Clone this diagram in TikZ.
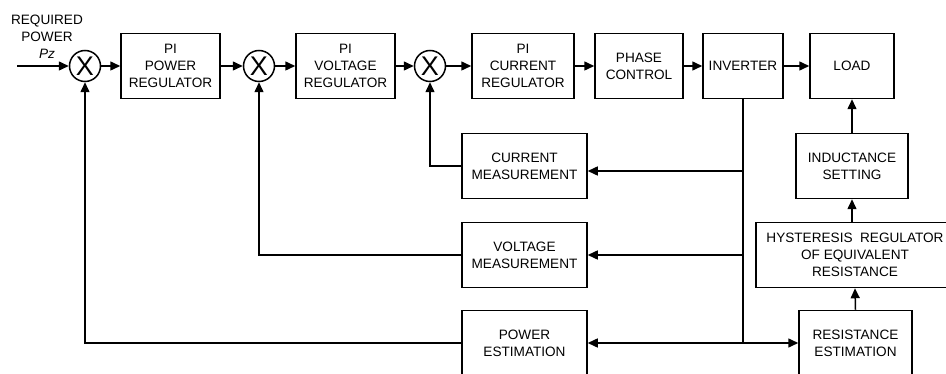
\documentclass[tikz,border=0pt]{standalone}
\usepackage{fontspec}
\setmainfont{Liberation Sans}
\usetikzlibrary{arrows.meta}

\begin{document}
\begin{tikzpicture}[x=1pt, y=-1pt, line width=1.5pt,
  every node/.style={font=\fontsize{13.6}{17}\selectfont},
  block/.style={draw, line width=1.5pt, minimum height=65pt, align=center, inner sep=1pt},
  summer/.style={draw, circle, line width=1.5pt, minimum size=31pt, inner sep=0pt,
    font=\fontsize{27}{27}\selectfont},
  >={Triangle[length=10pt,width=9pt]}]
\useasboundingbox (0,0) rectangle (946,374);
% top row
\node[align=center] (req) at (47,37) {REQUIRED\\POWER\\\textit{Pz}};
\coordinate (in) at (17,66);
\node[summer] (s1) at (85,66) {X};
\node[block, minimum width=99pt] (pipow) at (170.5,66) {PI\\POWER\\REGULATOR};
\node[summer] (s2) at (259,66) {X};
\node[block, minimum width=99pt] (pivolt) at (345.5,66) {PI\\VOLTAGE\\REGULATOR};
\node[summer] (s3) at (430,66) {X};
\node[block, minimum width=102pt] (picur) at (523,66) {PI\\CURRENT\\REGULATOR};
\node[block, minimum width=88pt] (phase) at (639,66) {PHASE\\CONTROL};
\node[block, minimum width=80pt] (inv) at (743,66) {INVERTER};
\node[block, minimum width=84pt] (load) at (852,66) {LOAD};
% measurement blocks
\node[block, minimum width=125pt] (cur) at (524.5,166) {CURRENT\\MEASUREMENT};
\node[block, minimum width=125pt] (volt) at (524.5,255) {VOLTAGE\\MEASUREMENT};
\node[block, minimum width=125pt] (powest) at (524.5,343) {POWER\\ESTIMATION};
% right column
\node[block, minimum width=112pt] (ind) at (852,166) {INDUCTANCE\\SETTING};
\node[block, minimum width=198pt] (hyst) at (855,255) {HYSTERESIS~~REGULATOR\\OF EQUIVALENT\\RESISTANCE};
\node[block, minimum width=113pt] (resest) at (855.5,343) {RESISTANCE\\ESTIMATION};
% taps on the inverter output
\coordinate (tapc) at (743,171);
\coordinate (tapv) at (743,255);
\coordinate (tapp) at (743,343);
% forward path
\draw[->] (in) -- (s1.west);
\draw[->] (s1) -- (pipow);
\draw[->] (pipow) -- (s2);
\draw[->] (s2) -- (pivolt);
\draw[->] (pivolt) -- (s3);
\draw[->] (s3) -- (picur);
\draw[->] (picur) -- (phase);
\draw[->] (phase) -- (inv);
\draw[->] (inv) -- (load);
% feedback
\draw (inv.south) -- (tapp);
\draw[->] (tapc) -- (tapc -| cur.east);
\draw[->] (tapv) -- (volt.east);
\draw[->] (tapp) -- (powest.east);
\draw[->] (tapp) -- (resest.west);
\draw[->] (cur.west) -| (s3.south);
\draw[->] (volt.west) -| (s2.south);
\draw[->] (powest.west) -| (s1.south);
\draw[->] (resest.north) -- (hyst.south);
\draw[->] (hyst.north -| ind.south) -- (ind.south);
\draw[->] (ind) -- (load);
\end{tikzpicture}
\end{document}
